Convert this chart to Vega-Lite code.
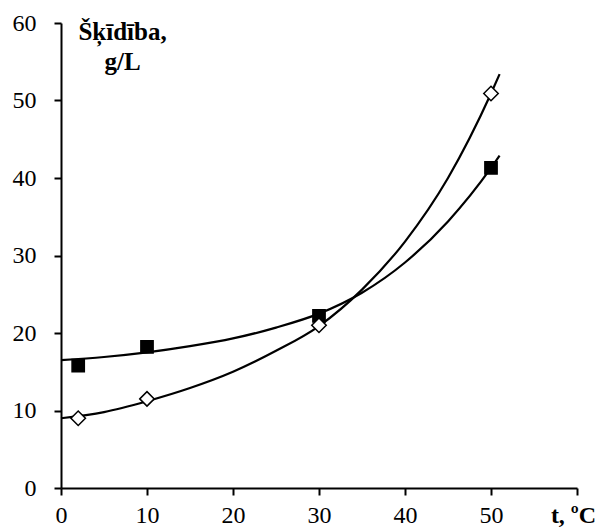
{
  "$schema": "https://vega.github.io/schema/vega-lite/v6.json",
  "width": 516,
  "height": 465,
  "autosize": "none",
  "padding": {"left": 61, "top": 23, "right": 21, "bottom": 41},
  "background": "white",
  "config": {
    "view": {"stroke": null},
    "axis": {
      "grid": false,
      "domainColor": "black",
      "domainWidth": 2,
      "tickColor": "black",
      "tickWidth": 2,
      "tickSize": 7,
      "labelFont": "Liberation Serif",
      "labelFontSize": 24,
      "labelColor": "black",
      "titleFont": "Liberation Serif",
      "titleColor": "black"
    }
  },
  "datasets": {
    "points": [
      {"t": 2, "v": 15.8, "s": "A"},
      {"t": 10, "v": 18.2, "s": "A"},
      {"t": 30, "v": 22.2, "s": "A"},
      {"t": 50, "v": 41.3, "s": "A"},
      {"t": 2, "v": 9.0, "s": "B"},
      {"t": 10, "v": 11.5, "s": "B"},
      {"t": 30, "v": 21.0, "s": "B"},
      {"t": 50, "v": 50.9, "s": "B"}
    ],
    "trend": [
      {"t": 0, "v": 16.5, "s": "A"},
      {"t": 5, "v": 16.9, "s": "A"},
      {"t": 10, "v": 17.5, "s": "A"},
      {"t": 15, "v": 18.3, "s": "A"},
      {"t": 20, "v": 19.3, "s": "A"},
      {"t": 25, "v": 20.7, "s": "A"},
      {"t": 30, "v": 22.5, "s": "A"},
      {"t": 35, "v": 25.2, "s": "A"},
      {"t": 40, "v": 29.1, "s": "A"},
      {"t": 45, "v": 34.4, "s": "A"},
      {"t": 50, "v": 41.3, "s": "A"},
      {"t": 51, "v": 42.9, "s": "A"},
      {"t": 0, "v": 9.0, "s": "B"},
      {"t": 5, "v": 9.8, "s": "B"},
      {"t": 10, "v": 11.2, "s": "B"},
      {"t": 15, "v": 12.9, "s": "B"},
      {"t": 20, "v": 15.0, "s": "B"},
      {"t": 25, "v": 17.7, "s": "B"},
      {"t": 30, "v": 20.9, "s": "B"},
      {"t": 35, "v": 25.6, "s": "B"},
      {"t": 40, "v": 31.8, "s": "B"},
      {"t": 45, "v": 40.0, "s": "B"},
      {"t": 50, "v": 50.9, "s": "B"},
      {"t": 51, "v": 53.4, "s": "B"}
    ]
  },
  "encoding": {
    "x": {
      "field": "t",
      "type": "quantitative",
      "scale": {"domain": [0, 60], "nice": false},
      "axis": {
        "values": [0, 10, 20, 30, 40, 50, 60],
        "title": null,
        "labelPadding": 8,
        "labelExpr": "datum.value == 60 ? 't, ºC' : datum.label",
        "labelFontWeight": {"condition": {"test": "datum.value == 60", "value": "bold"}, "value": "normal"},
        "labelOffset": {"condition": {"test": "datum.value == 60", "value": -4}, "value": 0},
        "labelFlush": false,
        "labelOverlap": false
      }
    },
    "y": {
      "field": "v",
      "type": "quantitative",
      "scale": {"domain": [0, 60], "nice": false},
      "axis": {
        "values": [0, 10, 20, 30, 40, 50, 60],
        "labelPadding": 18,
        "labelFlush": false,
        "title": ["Šķīdība,", "g/L"],
        "titleAngle": 0,
        "titleAlign": "center",
        "titleBaseline": "alphabetic",
        "titleX": 61,
        "titleY": 16,
        "titleFontSize": 25,
        "titleFontWeight": "bold",
        "titleLineHeight": 30
      }
    }
  },
  "layer": [
    {
      "data": {"name": "trend"},
      "mark": {"type": "line", "color": "black", "strokeWidth": 2.2, "interpolate": "monotone"},
      "encoding": {"detail": {"field": "s"}}
    },
    {
      "data": {"name": "points"},
      "mark": {"type": "point", "filled": false, "opacity": 1, "strokeWidth": 1.5},
      "encoding": {
        "shape": {"field": "s", "scale": {"domain": ["A", "B"], "range": ["square", "diamond"]}, "legend": null},
        "fill": {"field": "s", "scale": {"domain": ["A", "B"], "range": ["black", "white"]}, "legend": null},
        "stroke": {"value": "black"},
        "size": {"field": "s", "scale": {"domain": ["A", "B"], "range": [150, 210]}, "legend": null}
      }
    }
  ]
}
